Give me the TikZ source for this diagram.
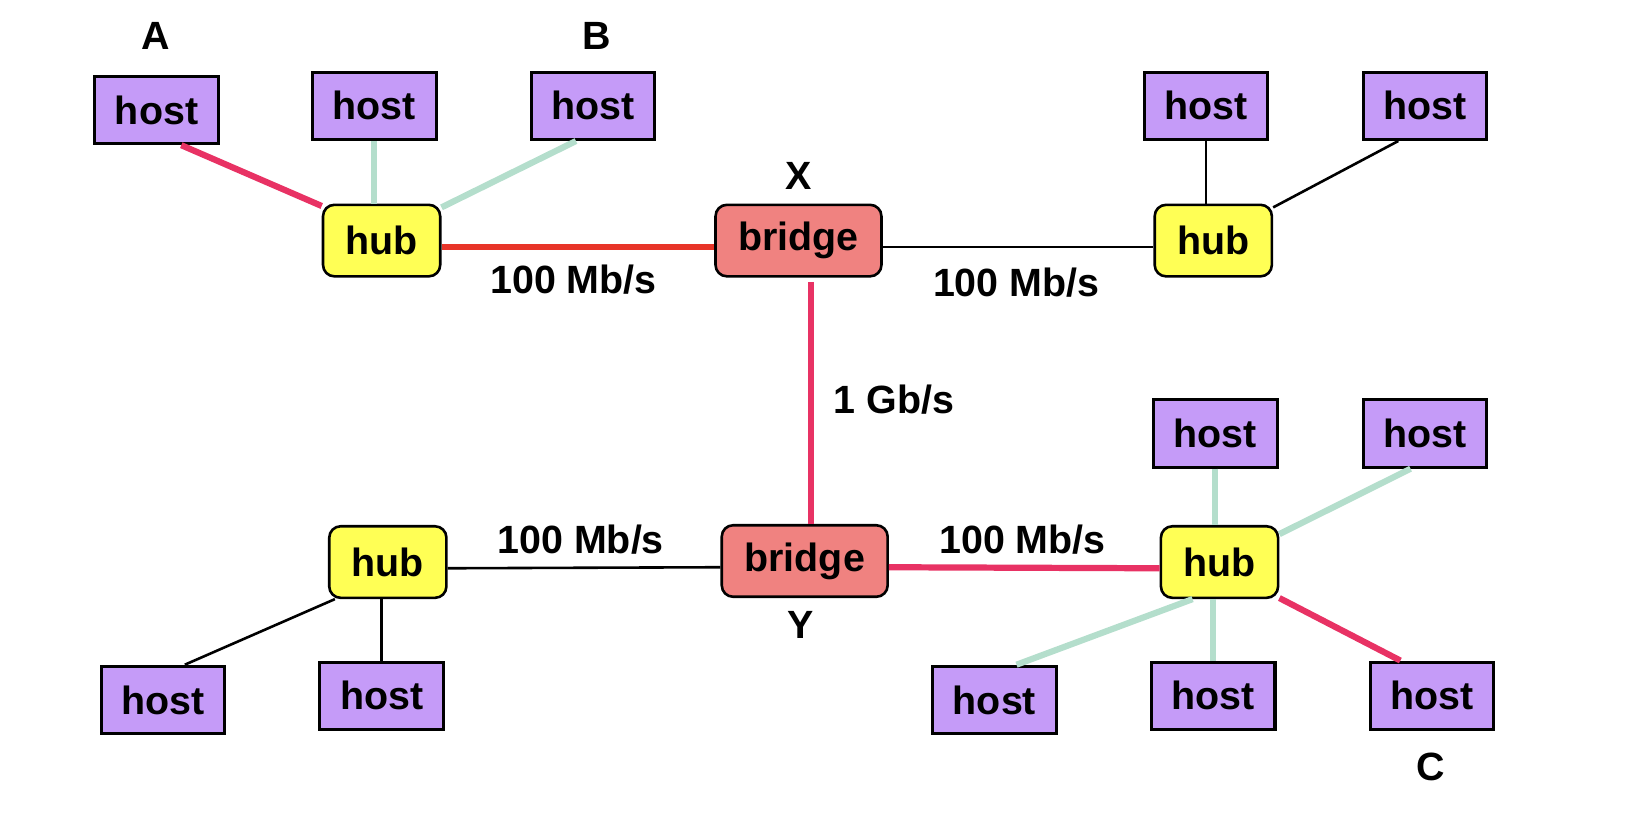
\documentclass[tikz,border=0pt]{standalone}
\usepackage{fontspec}
\setmainfont{Liberation Sans}
\definecolor{hostpurple}{RGB}{197,155,248}
\definecolor{hubyellow}{RGB}{255,255,85}
\definecolor{bridgecoral}{RGB}{240,130,128}
\definecolor{linkred}{RGB}{232,52,40}
\definecolor{linkpink}{RGB}{232,50,100}
\definecolor{linkgreen}{RGB}{180,222,204}
\begin{document}
\begin{tikzpicture}[x=1pt, y=-1pt,
  every node/.style={font=\fontsize{38}{44}\selectfont\bfseries},
  host/.style={shape=rectangle, draw=black, line width=3pt, fill=hostpurple, minimum width=119pt, minimum height=65pt, inner sep=0pt},
  hub/.style={shape=rectangle, rounded corners=11pt, draw=black, line width=2.5pt, fill=hubyellow, minimum width=113pt, minimum height=69pt, inner sep=0pt},
  bridge/.style={shape=rectangle, rounded corners=11pt, draw=black, line width=2.5pt, fill=bridgecoral, minimum width=160pt, minimum height=69pt, inner sep=0pt},
  redlink/.style={-, line width=6pt, draw=linkred},
  pinklink/.style={-, line width=6pt, draw=linkpink},
  greenlink/.style={-, line width=6pt, draw=linkgreen},
  plainlink/.style={-, line width=2.5pt, draw=black}]
\useasboundingbox (0,0) rectangle (1568,802);
\node (A) at (150,35) {A};
\node (B) at (575,35) {B};
\node (labX) at (770,170) {X};
\node (labY) at (772,603) {Y};
\node (C) at (1380,740) {C};
\node[host] (hA) at (151,106) {host};
\node[host] (h2) at (361,102) {host};
\node[host] (hB) at (572,102) {host};
\node[host] (h4) at (1163,102) {host};
\node[host] (h5) at (1374,102) {host};
\node[host] (h6) at (1172,418) {host};
\node[host] (h7) at (1374,418) {host};
\node[host] (h8) at (959,675) {host};
\node[host] (h9) at (1170,671) {host};
\node[host] (hC) at (1381,671) {host};
\node[host] (h10) at (157,675) {host};
\node[host] (h11) at (368,671) {host};
\node[hub] (U1) at (368,232) {hub};
\node[hub] (U2) at (1170,232) {hub};
\node[hub] (U3) at (374,542) {hub};
\node[hub] (U4) at (1176,542) {hub};
\node[bridge] (X) at (770,232) {bridge};
\node[bridge] (Y) at (776,541) {bridge};
\node (r1) at (553,270) {100 Mb/s};
\node (r2) at (980,273) {100 Mb/s};
\node (r3) at (862,385) {1 Gb/s};
\node (r4) at (560,520) {100 Mb/s};
\node (r5) at (986,520) {100 Mb/s};
\path [redlink] ([yshift=-6pt]U1.east) edge ([yshift=-6pt]X.west);
\path [plainlink] ([yshift=-6pt]X.east) edge ([yshift=-6pt]U2.west);
\path [pinklink] ([xshift=12pt,yshift=-4pt]X.south) edge ([xshift=6pt]Y.north);
\path [plainlink] ([yshift=-6pt]U3.east) edge ([yshift=-6pt]Y.west);
\path [pinklink] ([yshift=-6pt]Y.east) edge ([yshift=-6pt]U4.west);
\path [pinklink] (hA.-55) edge (U1.150);
\path [greenlink] (h2.south) edge (h2.south |- U1.north);
\path [greenlink] (hB.-116) edge (U1.29);
\path [plainlink] (h4.south) edge (h4.south |- U2.north);
\path [plainlink] (h5.233) edge (U2.29);
\path [greenlink] (h6.south) edge (h6.south |- U4.north);
\path [greenlink] (h7.248) edge (U4.25);
\path [greenlink] (h8.58) edge (U4.234);
\path [greenlink] (h9.north) edge (h9.north |- U4.south);
\path [pinklink] (hC.132) edge (U4.-31);
\path [plainlink] (h10.58) edge (U3.215);
\path [plainlink] (h11.north) edge (h11.north |- U3.south);
\end{tikzpicture}
\end{document}
